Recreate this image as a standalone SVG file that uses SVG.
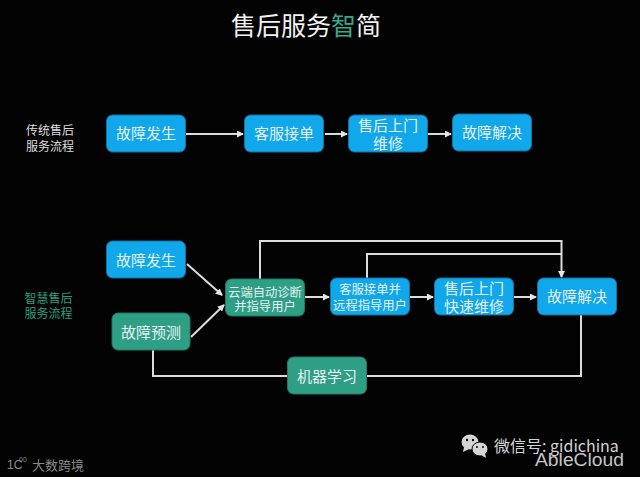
<svg xmlns="http://www.w3.org/2000/svg" width="640" height="477" viewBox="0 0 640 477">
<style>
text{font-family:"Noto Sans CJK SC","Liberation Sans",sans-serif;text-anchor:middle;fill:#e4f0f4}
.b rect{fill:#10a8ea;stroke:#1a6f9c;stroke-width:1}
.g rect{fill:#2e9f85;stroke:#1f7a66;stroke-width:1}
.t15{font-size:15px}.t12{font-size:12.3px}
.lab{font-size:12px}
.c{fill:none;stroke:#dcdcdc;stroke-width:2}
.a{marker-end:url(#ah)}
</style>
<defs><marker id="ah" markerUnits="userSpaceOnUse" markerWidth="7" markerHeight="7" refX="6" refY="3.5" orient="auto"><path d="M0 0L7 3.5L0 7z" fill="#e6e6e6"/></marker></defs>
<rect width="640" height="477" fill="#030304"/>
<text id="title" x="306" y="35" style="font-size:25px;fill:#f2f2f2">售后服务<tspan fill="#35a98c">智</tspan>简</text>
<text x="50" y="134.500" class="lab" style="fill:#dedede">传统售后</text>
<text x="50" y="150.500" class="lab" style="fill:#dedede">服务流程</text>
<text x="48.500" y="302.500" class="lab" style="fill:#2a9d82">智慧售后</text>
<text x="48.500" y="317.500" class="lab" style="fill:#2a9d82">服务流程</text>
<g id="connectors">
<path class="c a" d="M185 134H243"/>
<path class="c a" d="M325 134H347"/>
<path class="c a" d="M428 134H451"/>
<path class="c a" d="M187 264L222 295"/>
<path class="c a" d="M191 337L224 305"/>
<path class="c a" d="M305 297H329"/>
<path class="c a" d="M410 297H433"/>
<path class="c a" d="M514 297H536"/>
<path class="c a" d="M260 279V241H561.500V277"/>
<path class="c" d="M367 278V254H561"/>
<path class="c" d="M153 350V376H287"/>
<path class="c" d="M366 376H581V315"/>
</g>
<g id="n1" class="b"><rect x="106.500" y="115" width="79" height="37" rx="6"/><text x="146" y="139" class="t15">故障发生</text></g>
<g id="n2" class="b"><rect x="244.500" y="115" width="79" height="37" rx="6"/><text x="284" y="139" class="t15">客服接单</text></g>
<g id="n3" class="b"><rect x="348.500" y="115" width="79" height="37" rx="6"/><text x="388" y="130.500" class="t15">售后上门</text><text x="388" y="149" class="t15">维修</text></g>
<g id="n4" class="b"><rect x="452.500" y="114" width="79" height="37" rx="6"/><text x="492" y="138" class="t15">故障解决</text></g>
<g id="n5" class="b"><rect x="106.500" y="241" width="79" height="37" rx="6"/><text x="146" y="266" class="t15">故障发生</text></g>
<g id="n6" class="g"><rect x="112" y="313" width="78" height="37" rx="6"/><text x="151" y="338" class="t15">故障预测</text></g>
<g id="n7" class="g"><rect x="225.500" y="279" width="79" height="37" rx="6"/><text x="265" y="296.500" class="t12">云端自动诊断</text><text x="265" y="310.500" class="t12">并指导用户</text></g>
<g id="n8" class="b"><rect x="330.500" y="278" width="79" height="37" rx="6"/><text x="370" y="294" class="t12">客服接单并</text><text x="370" y="310" class="t12">远程指导用户</text></g>
<g id="n9" class="b"><rect x="434.500" y="278" width="79" height="37" rx="6"/><text x="474" y="293.500" class="t15">售后上门</text><text x="474" y="312" class="t15">快速维修</text></g>
<g id="n10" class="b"><rect x="537.500" y="278" width="79" height="37" rx="6"/><text x="577" y="302" class="t15">故障解决</text></g>
<g id="n11" class="g"><rect x="287.500" y="357" width="79" height="37" rx="6"/><text x="327" y="382" class="t15">机器学习</text></g>
<g id="wechat" fill="#d6d6d6">
<ellipse cx="470" cy="442" rx="8.500" ry="7.500"/>
<path d="M464 447L463 452L469 449z"/>
<ellipse cx="480" cy="449" rx="8" ry="7" stroke="#030304"/>
<path d="M485 453L486 458L481 455z"/>
<circle cx="467" cy="440" r="1.200" fill="#030304"/><circle cx="473" cy="440" r="1.200" fill="#030304"/>
<circle cx="477" cy="447" r="1" fill="#030304"/><circle cx="483" cy="447" r="1" fill="#030304"/>
</g>
<text x="494" y="452" style="font-size:16px;fill:#d4d4d4;text-anchor:start">微信号: gidichina</text>
<text x="535" y="466" textLength="89" lengthAdjust="spacingAndGlyphs" style="font-size:18px;fill:#c4c4c4;text-anchor:start;font-family:'Liberation Sans',sans-serif">AbleCloud</text>
<text x="7" y="469" style="font-size:12px;fill:#8a8a8a;text-anchor:start;font-family:'Liberation Sans',sans-serif">1C</text>
<text x="19" y="462" style="font-size:7px;fill:#8a8a8a;text-anchor:start;font-family:'Liberation Sans',sans-serif">00</text>
<text x="58" y="470" style="font-size:13px;fill:#8a8a8a">大数跨境</text>
</svg>
